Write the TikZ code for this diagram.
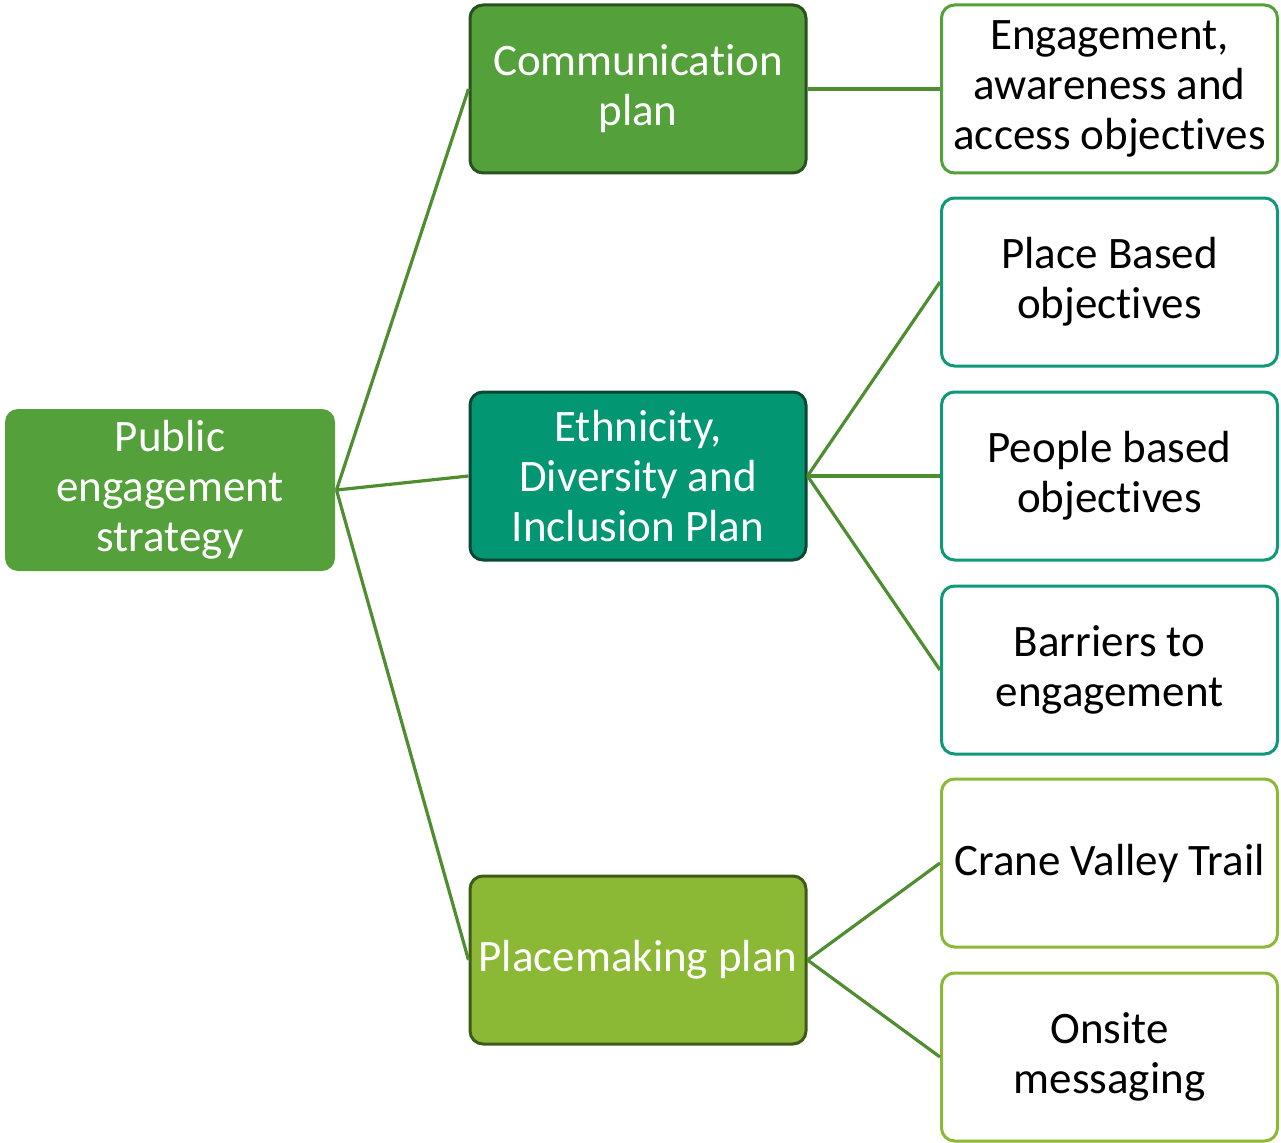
\documentclass[tikz,border=0pt]{standalone}
\usepackage{fontspec}
\setmainfont{Carlito}[Ligatures={NoCommon}]
\definecolor{cgreen}{RGB}{84,160,58}
\definecolor{cgreenB}{RGB}{42,82,30}
\definecolor{cteal}{RGB}{3,150,114}
\definecolor{ctealB}{RGB}{10,70,52}
\definecolor{clight}{RGB}{139,185,53}
\definecolor{clightB}{RGB}{64,90,26}
\definecolor{cline}{RGB}{78,142,48}
\definecolor{ctealR}{RGB}{14,153,120}
\begin{document}
\begin{tikzpicture}[x=1pt,y=-1pt,
  base/.style={rectangle, rounded corners=13pt, align=center, inner sep=0pt,
    minimum width=336pt, minimum height=168pt, line width=3pt,
    font=\fontsize{45}{50}\selectfont},
  mid/.style={base, text=white},
  leaf/.style={base, fill=white, text=black},
  conn/.style={draw=cline, line width=3.2pt}]
\useasboundingbox (0,0) rectangle (1281,1142);
\node[base, fill=cgreen, text=white, minimum width=330pt, minimum height=162pt] (root) at (170,490) {Public\\engagement\\strategy};
\node[mid, fill=cgreen, draw=cgreenB] (comm) at (638,89) {Communication\\plan};
\node[mid, fill=cteal, draw=ctealB] (edi) at (638,476) {Ethnicity,\\Diversity and\\Inclusion Plan};
\node[mid, fill=clight, draw=clightB] (place) at (638,960) {Placemaking plan};
\node[leaf, draw=cgreen] (eng) at (1109.5,89) {Engagement,\\awareness and\\access objectives};
\node[leaf, draw=ctealR] (pbo) at (1109.5,282) {Place Based\\objectives};
\node[leaf, draw=ctealR] (peo) at (1109.5,476) {People based\\objectives};
\node[leaf, draw=ctealR] (bar) at (1109.5,670) {Barriers to\\engagement};
\node[leaf, draw=clight] (crane) at (1109.5,863) {Crane Valley Trail};
\node[leaf, draw=clight] (ons) at (1109.5,1057) {Onsite\\messaging};
\draw[conn] (root.east) -- (comm.west);
\draw[conn] (root.east) -- (edi.west);
\draw[conn] (root.east) -- (place.west);
\draw[conn] (comm.east) -- (eng.west);
\draw[conn] (edi.east) -- (pbo.west);
\draw[conn] (edi.east) -- (peo.west);
\draw[conn] (edi.east) -- (bar.west);
\draw[conn] (place.east) -- (crane.west);
\draw[conn] (place.east) -- (ons.west);
\end{tikzpicture}
\end{document}
